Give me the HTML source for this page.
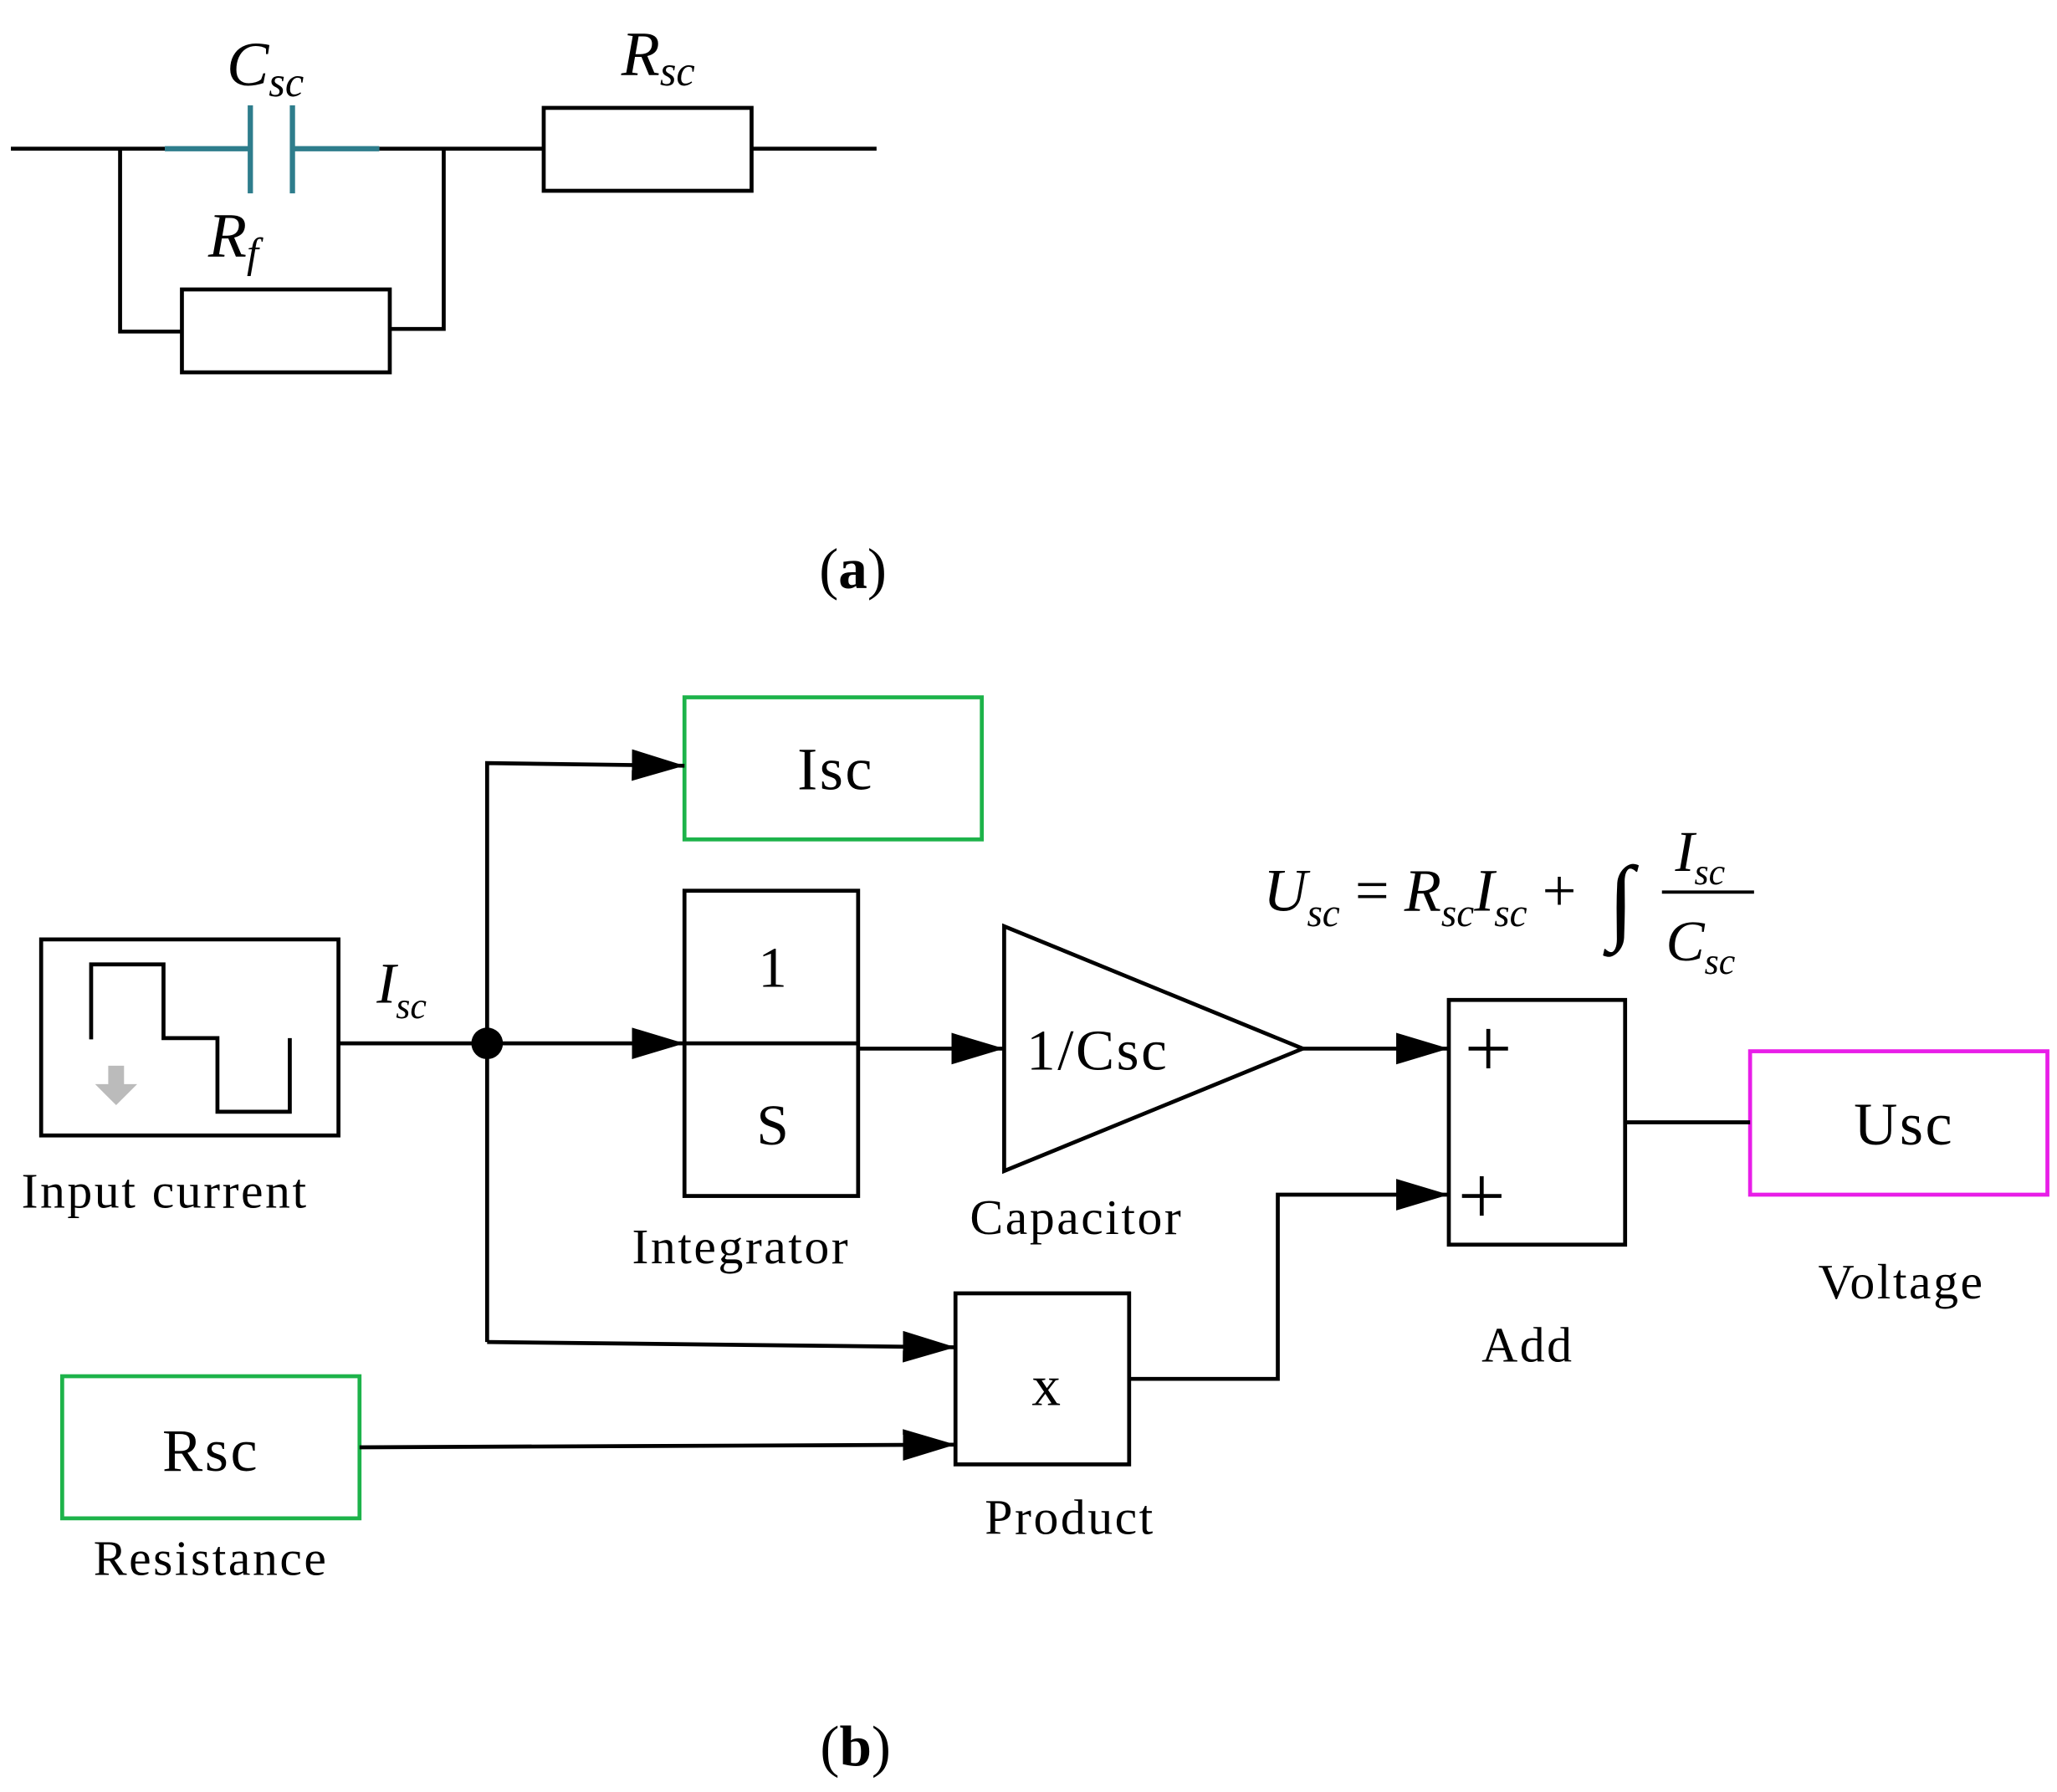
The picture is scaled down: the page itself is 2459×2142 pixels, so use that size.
<!DOCTYPE html>
<html><head><meta charset="utf-8"><style>
html,body{margin:0;padding:0;background:#fff}
svg{display:block}
text{font-family:"Liberation Serif",serif;fill:#000}
.i{font-style:italic}
.l{letter-spacing:1.6px}
</style></head><body>
<svg width="2459" height="2142" viewBox="0 0 1563 1362" xmlns="http://www.w3.org/2000/svg">
<defs><marker id="a" markerWidth="40" markerHeight="24" refX="40" refY="12" orient="auto" markerUnits="userSpaceOnUse"><path d="M0,0 L40,12 L0,24 Z" fill="#000"/></marker></defs>
<g stroke="#000" stroke-width="3" fill="none">
<line x1="8" y1="113" x2="125" y2="113"/>
<line x1="288" y1="113" x2="413" y2="113"/>
<rect x="413" y="82" width="158" height="63"/>
<line x1="571" y1="113" x2="666" y2="113"/>
<polyline points="91,113 91,252 138,252"/>
<rect x="138" y="220" width="158" height="63"/>
<polyline points="296,250 337,250 337,113"/>
</g>
<g stroke="#2e7d8c" stroke-width="4" fill="none">
<line x1="125" y1="113" x2="190" y2="113"/>
<line x1="222" y1="113" x2="288" y2="113"/>
<line x1="190" y1="80" x2="190" y2="147"/>
<line x1="222" y1="80" x2="222" y2="147"/>
</g>
<text x="172" y="65" font-size="48" class="i">C<tspan font-size="32" dy="8">sc</tspan></text>
<text x="472" y="57" font-size="48" class="i">R<tspan font-size="32" dy="8">sc</tspan></text>
<text x="158" y="195" font-size="48" class="i">R<tspan font-size="32" dy="8">f</tspan></text>
<text x="648" y="447" font-size="44" text-anchor="middle">(<tspan font-weight="bold">a</tspan>)</text>

<g stroke-width="3" fill="none">
<rect x="520" y="530" width="226" height="108" stroke="#1db34a"/>
<rect x="47" y="1046" width="226" height="108" stroke="#1db34a"/>
<rect x="1330" y="799" width="226" height="109" stroke="#e81ee8"/>
</g>
<g stroke="#000" stroke-width="3" fill="none">
<rect x="31" y="714" width="226" height="149"/>
<polyline points="69,790 69,733 124,733 124,789 165,789 165,845 220,845 220,789"/>
<rect x="520" y="677" width="132" height="232"/>
<line x1="520" y1="793" x2="652" y2="793"/>
<polygon points="763,704 990,797 763,890"/>
<rect x="1101" y="760" width="134" height="186"/>
<rect x="726" y="983" width="132" height="130"/>
<line x1="257" y1="793" x2="520" y2="793" marker-end="url(#a)"/>
<polyline points="370,1020 370,580 520,582" marker-end="url(#a)"/>
<line x1="370" y1="1020" x2="726" y2="1024" marker-end="url(#a)"/>
<line x1="652" y1="797" x2="763" y2="797" marker-end="url(#a)"/>
<line x1="990" y1="797" x2="1101" y2="797" marker-end="url(#a)"/>
<line x1="1235" y1="853" x2="1330" y2="853"/>
<polyline points="858,1048 971,1048 971,908 1101,908" marker-end="url(#a)"/>
<line x1="273" y1="1100" x2="726" y2="1098" marker-end="url(#a)"/>
<line x1="1263" y1="678" x2="1333" y2="678" stroke-width="2.5"/>
<!-- plus signs -->
<line x1="1116" y1="797" x2="1146" y2="797"/>
<line x1="1131" y1="782" x2="1131" y2="812"/>
<line x1="1111" y1="909" x2="1141" y2="909"/>
<line x1="1126" y1="894" x2="1126" y2="924"/>
</g>
<circle cx="370" cy="793" r="12" fill="#000"/>
<path d="M82,810 h12 v14 h10 l-16,16 l-16,-16 h10 z" fill="#bbb"/>
<text x="635" y="600" font-size="46" text-anchor="middle" class="l">Isc</text>
<text x="160" y="1118" font-size="46" text-anchor="middle" class="l">Rsc</text>
<text x="1447" y="870" font-size="46" text-anchor="middle" class="l">Usc</text>
<text x="587" y="750" font-size="44" text-anchor="middle">1</text>
<text x="587" y="870" font-size="44" text-anchor="middle">S</text>
<text x="780" y="813" font-size="44" class="l">1/Csc</text>
<text x="795" y="1068" font-size="44" text-anchor="middle">x</text>
<text x="16" y="918" font-size="38" class="l">Input current</text>
<text x="563" y="960" font-size="38" text-anchor="middle" class="l">Integrator</text>
<text x="818" y="938" font-size="38" text-anchor="middle" class="l">Capacitor</text>
<text x="1161" y="1035" font-size="38" text-anchor="middle" class="l">Add</text>
<text x="1445" y="987" font-size="38" text-anchor="middle" class="l">Voltage</text>
<text x="813" y="1166" font-size="38" text-anchor="middle" class="l">Product</text>
<text x="160" y="1197" font-size="38" text-anchor="middle" class="l">Resistance</text>
<text x="286" y="762" font-size="44" class="i">I<tspan font-size="28" dy="12">sc</tspan></text>
<text x="960" y="692" font-size="46" class="i">U<tspan font-size="30" dy="12">sc</tspan><tspan dy="-12" font-style="normal"> = </tspan>R<tspan font-size="30" dy="12">sc</tspan><tspan dy="-12">I</tspan><tspan font-size="30" dy="12">sc</tspan><tspan dy="-12" font-style="normal"> + </tspan></text>
<text x="1222" y="708" font-size="72" class="i">∫</text>
<text x="1273" y="662" font-size="44" class="i">I<tspan font-size="28" dy="10">sc</tspan></text>
<text x="1266" y="730" font-size="44" class="i">C<tspan font-size="28" dy="10">sc</tspan></text>
<text x="650" y="1342" font-size="44" text-anchor="middle">(<tspan font-weight="bold">b</tspan>)</text>
</svg>
</body></html>
